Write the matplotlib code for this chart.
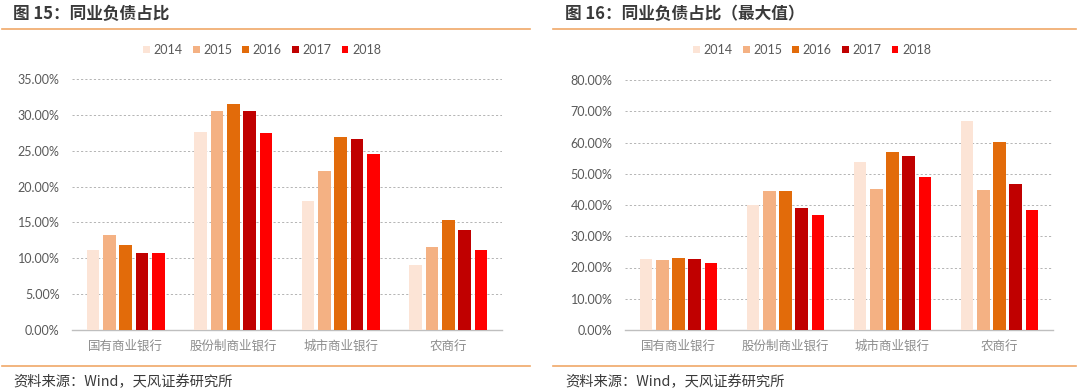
import matplotlib
matplotlib.use("Agg")
import matplotlib.pyplot as plt
import numpy as np
from matplotlib.lines import Line2D
from matplotlib.patches import Patch

plt.rcParams['font.family'] = ['Noto Sans CJK SC', 'DejaVu Sans']

categories = ['国有商业银行', '股份制商业银行', '城市商业银行', '农商行']
years = ['2014', '2015', '2016', '2017', '2018']
colors = ['#FCE4D6', '#F4B183', '#E26B0A', '#C00000', '#FF0000']

# Figure 15: share of interbank liabilities (%)
ratio_2014 = [11.2, 27.6, 18.0, 9.1]
ratio_2015 = [13.3, 30.6, 22.2, 11.6]
ratio_2016 = [11.9, 31.5, 26.9, 15.4]
ratio_2017 = [10.8, 30.5, 26.7, 13.9]
ratio_2018 = [10.7, 27.5, 24.5, 11.1]

# Figure 16: share of interbank liabilities, maximum (%)
max_2014 = [22.7, 40.0, 53.7, 67.0]
max_2015 = [22.4, 44.5, 45.1, 44.8]
max_2016 = [23.1, 44.5, 56.9, 60.3]
max_2017 = [22.8, 38.9, 55.7, 46.7]
max_2018 = [21.3, 36.7, 48.9, 38.4]

W, H = 1080, 392
fig = plt.figure(figsize=(W / 100, H / 100), dpi=100)
fig.patch.set_facecolor('white')

def px_axes(x0, y_top, x1, y_bot):
    return fig.add_axes([x0 / W, (H - y_bot) / H, (x1 - x0) / W, (y_bot - y_top) / H])

def panel(ax, series, ymax, ystep):
    x = np.arange(len(categories))
    pitch = 0.152
    bw = 0.118
    for i, (vals, c) in enumerate(zip(series, colors)):
        ax.bar(x + (i - 2) * pitch, vals, width=bw, color=c, zorder=3)
    ax.set_xlim(-0.5, len(categories) - 0.5)
    ax.set_ylim(0, ymax)
    ticks = np.arange(0, ymax + 0.001, ystep)
    ax.set_yticks(ticks)
    ax.set_yticklabels([f'{t:.2f}%' for t in ticks], fontsize=9, color='#595959',
                       family=['Lato', 'DejaVu Sans'])
    ax.set_xticks(x)
    ax.set_xticklabels(categories, fontsize=9, color='#8c8c8c')
    ax.tick_params(axis='both', length=0)
    ax.tick_params(axis='y', pad=9)
    ax.tick_params(axis='x', pad=7)
    for s in ['top', 'right', 'left']:
        ax.spines[s].set_visible(False)
    ax.spines['bottom'].set_color('#BFBFBF')
    ax.spines['bottom'].set_linewidth(1.0)
    ax.yaxis.grid(True, linestyle=(0, (2.2, 2.2)), color='#B4B4B4', linewidth=0.7, zorder=0)
    ax.set_axisbelow(True)

ax1 = px_axes(72, 79, 502, 330)
panel(ax1, [ratio_2014, ratio_2015, ratio_2016, ratio_2017, ratio_2018], 35, 5)
ax2 = px_axes(625, 80, 1053, 330)
panel(ax2, [max_2014, max_2015, max_2016, max_2017, max_2018], 80, 10)

handles = [Patch(facecolor=c, edgecolor='none') for c in colors]
for cx in (262 / W, 812 / W):
    fig.legend(handles, years, loc='center', bbox_to_anchor=(cx, (H - 50) / H),
               ncol=5, frameon=False, handlelength=0.55, handleheight=0.55,
               handletextpad=0.3, columnspacing=0.8, labelcolor='#595959',
               prop={'family': ['Lato', 'DejaVu Sans'], 'size': 9})

line_col = '#F0A868'
for (x0, x1) in [(2, 530), (553, 1076)]:
    for y in (29, 366):
        fig.add_artist(Line2D([x0 / W, x1 / W], [(H - y) / H, (H - y) / H],
                              color=line_col, linewidth=1.2))

fig.text(13 / W, (H - 14) / H, '图 15：同业负债占比', fontsize=12, fontweight='bold',
         color='#3a3a3a', va='center', ha='left')
fig.text(565 / W, (H - 14) / H, '图 16：同业负债占比（最大值）', fontsize=12, fontweight='bold',
         color='#3a3a3a', va='center', ha='left')
fig.text(13 / W, (H - 382) / H, '资料来源：Wind，天风证券研究所', fontsize=10.3,
         color='#3a3a3a', va='center', ha='left')
fig.text(565 / W, (H - 382) / H, '资料来源：Wind，天风证券研究所', fontsize=10.3,
         color='#3a3a3a', va='center', ha='left')

fig.savefig('out.png', dpi=100, facecolor='white')
